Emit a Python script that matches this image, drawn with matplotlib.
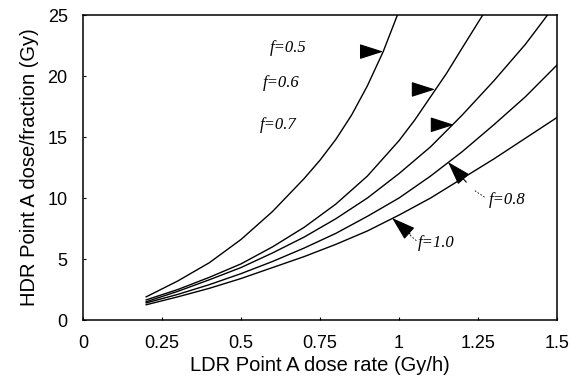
import matplotlib
matplotlib.use("Agg")
import matplotlib.pyplot as plt

# LDR Point A dose rate (Gy/h) vs HDR Point A dose per fraction (Gy)
x_f05 = [0.2, 0.3, 0.4, 0.5, 0.6, 0.7, 0.75, 0.8, 0.85, 0.9, 0.95, 0.995]
y_f05 = [1.9, 3.2, 4.7, 6.6, 8.9, 11.6, 13.1, 14.8, 16.8, 19.2, 22.0, 25.0]

x_f06 = [0.2, 0.3, 0.4, 0.5, 0.6, 0.7, 0.8, 0.9, 1.0, 1.05, 1.1, 1.15, 1.2, 1.265]
y_f06 = [1.65, 2.5, 3.5, 4.6, 6.0, 7.6, 9.5, 11.8, 14.7, 16.4, 18.3, 20.2, 22.3, 25.0]

x_f07 = [0.2, 0.3, 0.4, 0.5, 0.6, 0.7, 0.8, 0.9, 1.0, 1.1, 1.2, 1.3, 1.4, 1.47]
y_f07 = [1.5, 2.35, 3.3, 4.3, 5.5, 6.8, 8.3, 10.0, 12.0, 14.2, 16.8, 19.6, 22.6, 25.0]

x_f08 = [0.2, 0.3, 0.4, 0.5, 0.6, 0.7, 0.8, 0.9, 1.0, 1.1, 1.2, 1.3, 1.4, 1.5]
y_f08 = [1.4, 2.1, 2.9, 3.8, 4.8, 5.9, 7.1, 8.5, 10.0, 11.8, 13.8, 16.0, 18.3, 20.9]

x_f10 = [0.2, 0.3, 0.4, 0.5, 0.6, 0.7, 0.8, 0.9, 1.0, 1.1, 1.2, 1.3, 1.4, 1.5]
y_f10 = [1.25, 1.9, 2.6, 3.4, 4.3, 5.2, 6.2, 7.3, 8.6, 10.0, 11.6, 13.2, 14.9, 16.6]

curves = [(x_f05, y_f05), (x_f06, y_f06), (x_f07, y_f07), (x_f08, y_f08), (x_f10, y_f10)]

x_ticks = [0, 0.25, 0.5, 0.75, 1, 1.25, 1.5]
x_tick_labels = ["0", "0.25", "0.5", "0.75", "1", "1.25", "1.5"]
y_ticks = [0, 5, 10, 15, 20, 25]

# label text, text anchor (x, y), arrow tip (x, y), arrow tail (x, y)
labels = ["f=0.5", "f=0.6", "f=0.7", "f=0.8", "f=1.0"]
label_pos = [(0.592, 22.3), (0.57, 19.4), (0.56, 16.0), (1.285, 9.8), (1.06, 6.3)]
arrow_tip = [(0.950, 22.0), (1.114, 18.9), (1.174, 16.0), (1.155, 12.95), (0.978, 8.36)]
arrow_tail = [(0.884, 22.0), (1.048, 18.9), (1.108, 16.0), (1.213, 11.3), (1.035, 7.05)]

fig = plt.figure(figsize=(5.7, 3.85), dpi=100)
ax = fig.add_axes([0.1456, 0.1688, 0.8316, 0.7922])

for xs, ys in curves:
    ax.plot(xs, ys, color="black", linewidth=1.0)

for text, (tx, ty), tip, tail in zip(labels, label_pos, arrow_tip, arrow_tail):
    ax.text(tx, ty, text, fontsize=12, fontstyle="italic", family="Liberation Serif",
            ha="left", va="center")
    ax.annotate("", xy=tip, xytext=tail,
                arrowprops=dict(arrowstyle="-|>,head_length=1.0,head_width=0.32",
                                mutation_scale=15, color="black", lw=0.8,
                                shrinkA=0, shrinkB=0))

# small dashed leaders for the two lower labels
ax.plot([1.24, 1.275], [10.6, 10.0], color="black", linewidth=0.6, linestyle=(0, (2, 2)))
ax.plot([1.035, 1.055], [6.95, 6.5], color="black", linewidth=0.6, linestyle=(0, (2, 2)))

ax.set_xlim(0, 1.5)
ax.set_ylim(0, 25)
ax.set_xticks(x_ticks)
ax.set_xticklabels(x_tick_labels)
ax.set_yticks(y_ticks)
ax.tick_params(direction="in", length=2, width=0.8, labelsize=13, pad=11)
for lbl in ax.get_xticklabels() + ax.get_yticklabels():
    lbl.set_family("Liberation Sans")
for sp in ax.spines.values():
    sp.set_linewidth(1.1)

ax.set_xlabel("LDR Point A dose rate (Gy/h)", fontsize=14.5, family="Liberation Sans", labelpad=3)
ax.set_ylabel("HDR Point A dose/fraction (Gy)", fontsize=14.5, family="Liberation Sans", labelpad=6)

fig.savefig("out.png", dpi=100)
